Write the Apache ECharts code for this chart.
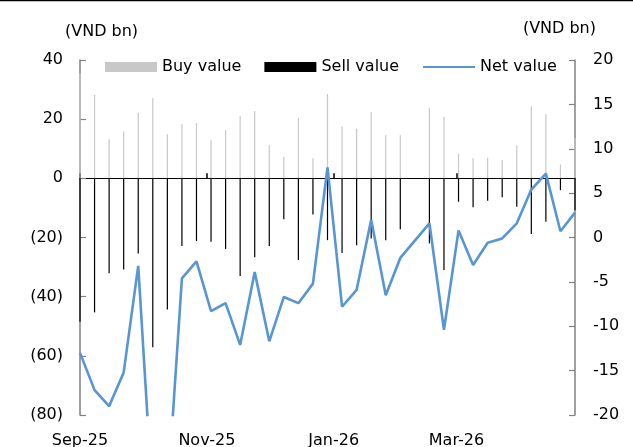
<!DOCTYPE html>
<html>
<head>
<meta charset="utf-8">
<title>Buy / Sell / Net value</title>
<script src="https://cdn.jsdelivr.net/npm/echarts@6/dist/echarts.min.js"></script>
<style>
    html, body {margin: 0; padding: 0; background: #fff;}
    #chart {width: 633px; height: 447px;}
</style>
</head>
<body>
<div id="chart"></div>
<script>
// weekly data, week of 2026-02-16 is missing (Tet holiday)
let weeks = [
    '2025-09-08', '2025-09-15', '2025-09-22', '2025-09-29', '2025-10-06', '2025-10-13',
    '2025-10-20', '2025-10-27', '2025-11-03', '2025-11-10', '2025-11-17', '2025-11-24',
    '2025-12-01', '2025-12-08', '2025-12-15', '2025-12-22', '2025-12-29', '2026-01-05',
    '2026-01-12', '2026-01-19', '2026-01-26', '2026-02-02', '2026-02-09', '2026-02-23',
    '2026-03-02', '2026-03-09', '2026-03-16', '2026-03-23', '2026-03-30', '2026-04-06',
    '2026-04-13', '2026-04-20', '2026-04-27', '2026-05-04'
];
let buyValue = [
    35.5, 28.2, 13.2, 15.8, 22.2, 27.1, 14.9, 18.3, 18.7, 12.9, 16.3, 21.1,
    22.8, 11.3, 7.3, 20.3, 6.8, 28.5, 17.5, 16.8, 22.4, 14.6, 14.6, 23.7,
    20.8, 8.4, 6.8, 7.0, 6.2, 11.2, 24.4, 21.7, 4.7, 13.6
];
let sellValue = [
    -48.5, -45.3, -32.1, -30.8, -25.4, -57.1, -44.3, -22.9, -21.2, -21.4, -23.9, -33.0,
    -26.7, -22.9, -13.8, -27.6, -12.2, -20.9, -25.2, -22.6, -20.3, -20.9, -17.2, -22.0,
    -31.0, -7.9, -9.8, -7.6, -6.4, -9.6, -18.8, -14.7, -4.0, -10.8
];
let netValue = [
    -13.0, -17.2, -19.0, -15.2, -3.2, -30.0, -29.4, -4.6, -2.7, -8.3, -7.4, -12.1,
    -3.9, -11.7, -6.7, -7.4, -5.2, 7.9, -7.8, -5.9, 2.0, -6.5, -2.3, 1.6,
    -10.4, 0.8, -3.1, -0.6, -0.1, 1.6, 5.4, 7.2, 0.7, 2.8
];
let dateTicks = ['2025-09-08', '2025-11-08', '2026-01-08', '2026-03-08'];
let leftTicks = {min: -80, max: 40, interval: 20};
let rightTicks = {min: -20, max: 20, interval: 5};

const MONTHS = ['Jan', 'Feb', 'Mar', 'Apr', 'May', 'Jun', 'Jul', 'Aug', 'Sep', 'Oct', 'Nov', 'Dec'];
const FONT = 'DejaVu Sans';
const NET_COLOR = '#5795d4';

function toTime(s) {
    let p = s.split('-');
    return Date.UTC(+p[0], +p[1] - 1, +p[2]);
}
function pairs(vals) {
    return vals.map((v, i) => [toTime(weeks[i]), v]);
}

let tickTimes = dateTicks.map(toTime);
let xMin = toTime(weeks[0]);
let xMax = toTime(weeks[weeks.length - 1]);

let chart = echarts.init(document.getElementById('chart'), null, {renderer: 'canvas'});
chart.setOption({
    animation: false,
    textStyle: {fontFamily: FONT},
    title: [
        {text: '(VND bn)', left: 65, top: 24, padding: 0,
            textStyle: {fontSize: 16, fontWeight: 'normal', color: '#000', fontFamily: FONT}},
        {text: '(VND bn)', right: 37, top: 21, padding: 0,
            textStyle: {fontSize: 16, fontWeight: 'normal', color: '#000', fontFamily: FONT}}
    ],
    graphic: [
        {type: 'rect', left: 0, top: 0, shape: {width: 633, height: 1.3}, style: {fill: '#000'}}
    ],
    legend: {
        left: 105,
        top: 59,
        padding: 0,
        itemWidth: 52,
        itemHeight: 10,
        itemGap: 23,
        textStyle: {fontSize: 16, color: '#000', fontFamily: FONT},
        data: [
            {name: 'Buy value', icon: 'rect'},
            {name: 'Sell value', icon: 'rect'},
            // hide the dot that line legends get
            {name: 'Net value', itemStyle: {color: 'rgba(0,0,0,0)', borderWidth: 0}}
        ]
    },
    grid: {left: 80, right: 58, top: 60, bottom: 32, containLabel: false, outerBoundsMode: 'none'},
    xAxis: [
        {
            // zero line with the month ticks
            type: 'value',
            min: xMin,
            max: xMax,
            axisLine: {onZero: true, onZeroAxisIndex: 0, lineStyle: {color: '#000', width: 1.2}},
            axisTick: {show: true, inside: true, length: 5, customValues: tickTimes,
                lineStyle: {color: '#000', width: 1.5}},
            axisLabel: {show: false},
            splitLine: {show: false}
        },
        {
            // labels at the bottom
            type: 'value',
            position: 'bottom',
            min: xMin,
            max: xMax,
            axisLine: {show: false, onZero: false},
            axisTick: {show: false},
            splitLine: {show: false},
            axisLabel: {
                customValues: tickTimes,
                margin: 18,
                fontSize: 16,
                color: '#000',
                fontFamily: FONT,
                formatter: function (v) {
                    let d = new Date(v);
                    return MONTHS[d.getUTCMonth()] + '-' + String(d.getUTCFullYear()).slice(2);
                }
            }
        }
    ],
    yAxis: [
        {
            type: 'value',
            position: 'left',
            min: leftTicks.min,
            max: leftTicks.max,
            interval: leftTicks.interval,
            axisLine: {show: true, onZero: false, lineStyle: {color: '#808080', width: 1.5}},
            axisTick: {show: true, inside: true, length: 6, lineStyle: {color: '#808080', width: 1.2}},
            splitLine: {show: false},
            axisLabel: {
                margin: 17,
                fontSize: 16,
                color: '#000',
                fontFamily: FONT,
                formatter: function (v) {
                    return v < 0 ? '(' + Math.abs(v) + ')' : String(v);
                }
            }
        },
        {
            type: 'value',
            position: 'right',
            min: rightTicks.min,
            max: rightTicks.max,
            interval: rightTicks.interval,
            axisLine: {show: true, onZero: false, lineStyle: {color: '#808080', width: 1.5}},
            axisTick: {show: true, inside: true, length: 6, lineStyle: {color: '#808080', width: 1.2}},
            splitLine: {show: false},
            axisLabel: {margin: 18, fontSize: 16, color: '#000', fontFamily: FONT}
        }
    ],
    series: [
        {
            name: 'Buy value',
            type: 'bar',
            xAxisIndex: 0,
            yAxisIndex: 0,
            stack: 'flow',
            barWidth: 1.2,
            itemStyle: {color: '#c8c8c8'},
            data: pairs(buyValue)
        },
        {
            name: 'Sell value',
            type: 'bar',
            xAxisIndex: 0,
            yAxisIndex: 0,
            stack: 'flow',
            barWidth: 1.1,
            itemStyle: {color: '#000'},
            data: pairs(sellValue)
        },
        {
            name: 'Net value',
            type: 'line',
            xAxisIndex: 0,
            yAxisIndex: 1,
            symbol: 'none',
            z: 5,
            lineStyle: {color: NET_COLOR, width: 2.6},
            itemStyle: {color: NET_COLOR},
            data: pairs(netValue)
        }
    ]
});
</script>
</body>
</html>
